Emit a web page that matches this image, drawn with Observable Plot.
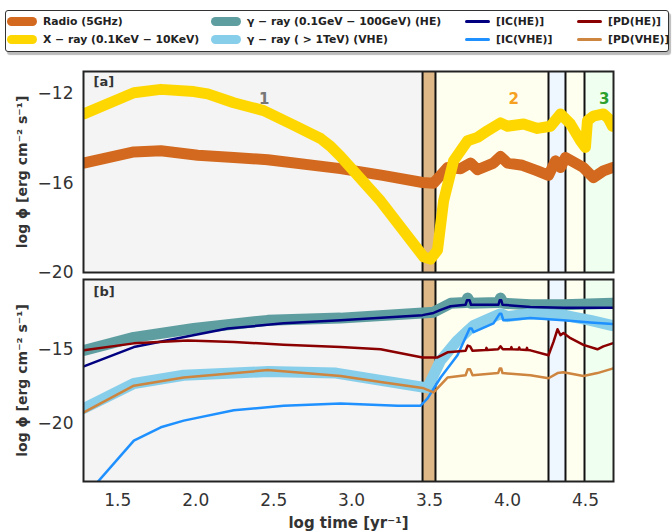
<!DOCTYPE html>
<html><head><meta charset="utf-8">
<script src="https://cdn.jsdelivr.net/npm/d3@7"></script>
<script src="https://cdn.jsdelivr.net/npm/@observablehq/plot@0.6"></script>
<style>
body{margin:0;background:#fff;font-family:"DejaVu Sans",sans-serif;}
#wrap{position:relative;width:672px;height:531px;overflow:hidden;background:#fff;}
#legend{position:absolute;left:5px;top:10px;width:664px;height:42px;border:1.3px solid #333;border-radius:3px;box-shadow:2px 3px 1px #bbb;background:#fff;box-sizing:border-box;}
.item{position:absolute;height:14px;display:flex;align-items:center;font-size:10.8px;font-weight:bold;color:#222;white-space:nowrap;}
.sw{border-radius:5px;margin-right:6px;}
#pa{position:absolute;left:0;top:60px;}
#pb{position:absolute;left:0;top:275px;}
svg{overflow:visible;}
svg text{font-family:"DejaVu Sans",sans-serif;}
g[aria-label="y-axis label"] text{font-weight:bold;font-size:14px;}
g[aria-label="x-axis label"] text{font-weight:bold;font-size:15px;}
</style></head>
<body>
<div id="wrap">
  <div id="legend"></div>
  <div id="pb"></div>
  <div id="pa"></div>
</div>
<script>
// ---------- data ----------
const xDomain = [1.28, 4.68];
const xTicks = [1.5, 2.0, 2.5, 3.0, 3.5, 4.0, 4.5];
const yTicksA = [-12, -16, -20];
const yTicksB = [-15, -20];

const bandStart = [1.28, 3.455, 3.538, 4.263, 4.372, 4.494];
const bandEnd   = [3.455, 3.538, 4.263, 4.372, 4.494, 4.68];
const bandFill  = ["#f4f4f4", "#deb887", "#fffff0", "#eef6ff", "#fffff0", "#effff0"];
const boundaries = [3.455, 3.538, 4.263, 4.372, 4.494];

const regionT = [2.44, 4.04, 4.62];
const regionText = ["1", "2", "3"];
const regionColor = ["#777777", "#f5a020", "#2ca02c"];

// panel a
const radio = [[1.282,-15.1],[1.603,-14.6],[1.776,-14.55],[2.013,-14.75],[2.244,-14.85],[2.462,-14.95],[2.929,-15.35],[3.2,-15.65],[3.455,-15.97],[3.526,-16.0],[3.615,-15.3],[3.699,-15.35],[3.763,-15.1],[3.808,-15.4],[3.91,-15.1],[3.955,-14.8],[4.0,-15.1],[4.096,-15.2],[4.192,-15.45],[4.263,-15.65],[4.308,-15.0],[4.34,-15.3],[4.372,-14.85],[4.487,-15.3],[4.551,-15.75],[4.615,-15.45],[4.673,-15.3]];
const xray = [[1.282,-12.9],[1.603,-11.95],[1.776,-11.8],[1.987,-11.9],[2.077,-12.0],[2.244,-12.4],[2.436,-12.75],[2.628,-13.4],[2.801,-14.0],[2.865,-14.35],[2.929,-14.8],[3.186,-16.8],[3.462,-19.3],[3.506,-19.4],[3.551,-19.0],[3.59,-16.8],[3.654,-15.0],[3.744,-14.1],[3.808,-13.95],[3.872,-13.65],[3.955,-13.3],[4.0,-13.45],[4.103,-13.35],[4.192,-13.55],[4.276,-13.45],[4.34,-12.9],[4.404,-13.35],[4.468,-14.1],[4.5,-14.4],[4.513,-13.2],[4.551,-13.0],[4.615,-12.9],[4.647,-13.1],[4.673,-13.45]];

// panel b
const gammaHE = [[1.282,-15.07],[1.603,-14.2],[1.987,-13.6],[2.462,-13.05],[2.929,-12.9],[3.455,-12.55],[3.526,-12.5],[3.635,-11.9],[3.731,-11.85],[3.744,-11.55],[3.763,-11.9],[3.942,-11.85],[3.955,-11.55],[3.974,-11.9],[4.147,-12.0],[4.359,-12.0],[4.673,-11.9]];
const gammaVHE = [[1.282,-18.98],[1.603,-17.3],[1.923,-16.75],[2.462,-16.5],[2.9,-16.6],[3.455,-17.55],[3.487,-17.6],[3.571,-15.75],[3.679,-14.4],[3.75,-13.7],[3.782,-13.4],[3.891,-12.9],[3.955,-12.6],[4.0,-12.8],[4.147,-12.6],[4.359,-12.7],[4.532,-13.05],[4.673,-13.4]];
const icHE = [[1.282,-16.15],[1.603,-14.85],[1.885,-14.25],[2.205,-13.6],[2.564,-13.25],[2.929,-13.05],[3.455,-12.7],[3.526,-12.55],[3.571,-12.35],[3.635,-12.1],[3.731,-12.0],[3.74,-11.7],[3.757,-11.7],[3.766,-12.0],[3.942,-12.0],[3.95,-11.7],[3.96,-11.7],[3.968,-12.0],[4.147,-12.15],[4.359,-12.2],[4.673,-12.2]];
const icVHE = [[1.282,-25.0],[1.603,-21.15],[1.776,-20.25],[1.923,-19.8],[2.244,-19.1],[2.564,-18.8],[2.929,-18.65],[3.295,-18.8],[3.442,-18.8],[3.487,-18.3],[3.571,-16.9],[3.679,-15.4],[3.744,-13.9],[3.757,-13.6],[3.77,-13.6],[3.782,-13.85],[3.91,-13.25],[3.95,-12.6],[3.96,-12.6],[3.974,-13.05],[4.147,-12.9],[4.359,-13.05],[4.532,-13.2],[4.673,-13.3]];
const pdHE = [[1.282,-15.07],[1.603,-14.6],[1.949,-14.4],[2.244,-14.5],[2.564,-14.7],[2.929,-14.85],[3.186,-15.0],[3.455,-15.55],[3.551,-15.55],[3.615,-15.2],[3.731,-15.1],[3.745,-14.75],[3.76,-14.8],[3.776,-15.1],[3.86,-15.05],[3.865,-14.9],[3.87,-15.05],[3.94,-15.0],[3.955,-14.8],[3.97,-15.0],[4.02,-15.0],[4.025,-14.85],[4.03,-15.0],[4.07,-15.02],[4.075,-14.88],[4.08,-15.02],[4.12,-15.05],[4.125,-14.9],[4.13,-15.05],[4.147,-15.07],[4.263,-15.4],[4.295,-14.5],[4.321,-13.65],[4.34,-14.05],[4.359,-13.9],[4.404,-14.25],[4.487,-14.7],[4.577,-15.0],[4.615,-14.8],[4.673,-14.6]];
const pdVHE = [[1.282,-19.25],[1.603,-17.45],[1.923,-16.9],[2.462,-16.4],[2.929,-16.8],[3.186,-17.2],[3.455,-17.6],[3.526,-17.9],[3.615,-16.9],[3.731,-16.75],[3.745,-16.35],[3.76,-16.35],[3.776,-16.75],[3.94,-16.6],[3.95,-16.3],[3.96,-16.3],[3.968,-16.6],[4.147,-16.75],[4.263,-16.95],[4.321,-16.6],[4.359,-16.55],[4.487,-16.8],[4.577,-16.6],[4.673,-16.3]];

// legend
const legendLabels = ["Radio (5GHz)", "X − ray (0.1KeV − 10KeV)", "γ − ray (0.1GeV − 100GeV) (HE)", "γ − ray ( > 1TeV) (VHE)", "[IC(HE)]", "[IC(VHE)]", "[PD(HE)]", "[PD(VHE)]"];
const legendColors = ["#d2691e", "#ffd700", "#5f9ea0", "#87ceeb", "#000080", "#1e90ff", "#8b0000", "#cd853f"];

// ---------- styles ----------
const legendCol = [1, 1, 205, 205, 456, 456, 568, 568];
const legendRow = [3, 21.5, 3, 21.5, 3, 21.5, 3, 21.5];
const legendThick = [true, true, true, true, false, false, false, false];

const leg = document.getElementById("legend");
legendLabels.forEach((lab, i) => {
  const it = document.createElement("div");
  it.className = "item";
  it.style.left = legendCol[i] + "px";
  it.style.top = legendRow[i] + "px";
  const sw = document.createElement("span");
  sw.className = "sw";
  sw.style.background = legendColors[i];
  sw.style.width = (legendThick[i] ? 30 : 25) + "px";
  sw.style.height = (legendThick[i] ? 9 : 3) + "px";
  if (!legendThick[i]) sw.style.marginLeft = "3px";
  it.appendChild(sw);
  it.appendChild(document.createTextNode(lab));
  leg.appendChild(it);
});

const fmtX = d3.format(".1f");
const fmtY = d3.format("d");
const yLabel = "log ϕ [erg cm⁻² s⁻¹]";

function bandMarks() {
  const m = bandStart.map((s, i) => Plot.rect([i], {x1: () => bandStart[i], x2: () => bandEnd[i], fill: bandFill[i]}));
  m.push(Plot.ruleX(boundaries, {stroke: "#111", strokeWidth: 2}));
  return m;
}
function lineMark(data, color, w) {
  return Plot.line(data, {x: d => d[0], y: d => d[1], stroke: color, strokeWidth: w, strokeLinecap: "round", strokeLinejoin: "round", clip: true});
}

const plotA = Plot.plot({
  width: 672, height: 215,
  marginLeft: 83, marginRight: 59, marginTop: 11, marginBottom: 3,
  style: {fontSize: "17px", color: "#333", background: "transparent", overflow: "visible"},
  x: {domain: xDomain, axis: null},
  y: {domain: [-20, -11]},
  marks: [
    ...bandMarks(),
    lineMark(radio, legendColors[0], 11),
    lineMark(xray, legendColors[1], 11),
    Plot.text(regionT, {x: d => d, frameAnchor: "top", dy: 22, text: (d, i) => regionText[i], fill: (d, i) => regionColor[i], fontWeight: "bold", fontSize: 15}),
    Plot.text(["[a]"], {frameAnchor: "top-left", dx: 10, dy: 5, text: d => d, textAnchor: "start", lineAnchor: "top", fontWeight: "bold", fontSize: 13, fill: "#333"}),
    Plot.frame({stroke: "#222", strokeWidth: 2}),
    Plot.axisY({ticks: yTicksA, tickFormat: fmtY, tickSize: 0, tickPadding: 10, label: yLabel, labelAnchor: "center", labelOffset: 66, labelArrow: "none"})
  ]
});
document.getElementById("pa").appendChild(plotA);

const plotB = Plot.plot({
  width: 672, height: 256,
  marginLeft: 83, marginRight: 59, marginTop: 4, marginBottom: 50,
  style: {fontSize: "17px", color: "#333", background: "transparent", overflow: "visible"},
  x: {domain: xDomain},
  y: {domain: [-23.9, -10.3]},
  marks: [
    ...bandMarks(),
    lineMark(gammaHE, legendColors[2], 11),
    lineMark(gammaVHE, legendColors[3], 11),
    lineMark(icHE, legendColors[4], 2.5),
    lineMark(icVHE, legendColors[5], 2.5),
    lineMark(pdHE, legendColors[6], 2.5),
    lineMark(pdVHE, legendColors[7], 2.5),
    Plot.text(["[b]"], {frameAnchor: "top-left", dx: 10, dy: 7, text: d => d, textAnchor: "start", lineAnchor: "top", fontWeight: "bold", fontSize: 13, fill: "#333"}),
    Plot.frame({stroke: "#222", strokeWidth: 2}),
    Plot.axisY({ticks: yTicksB, tickFormat: fmtY, tickSize: 0, tickPadding: 10, label: yLabel, labelAnchor: "center", labelOffset: 66, labelArrow: "none"}),
    Plot.axisX({ticks: xTicks, tickFormat: fmtX, tickSize: 0, tickPadding: 12, label: "log time [yr⁻¹]", labelAnchor: "center", labelOffset: 46, labelArrow: "none"})
  ]
});
document.getElementById("pb").appendChild(plotB);
</script>
</body></html>
